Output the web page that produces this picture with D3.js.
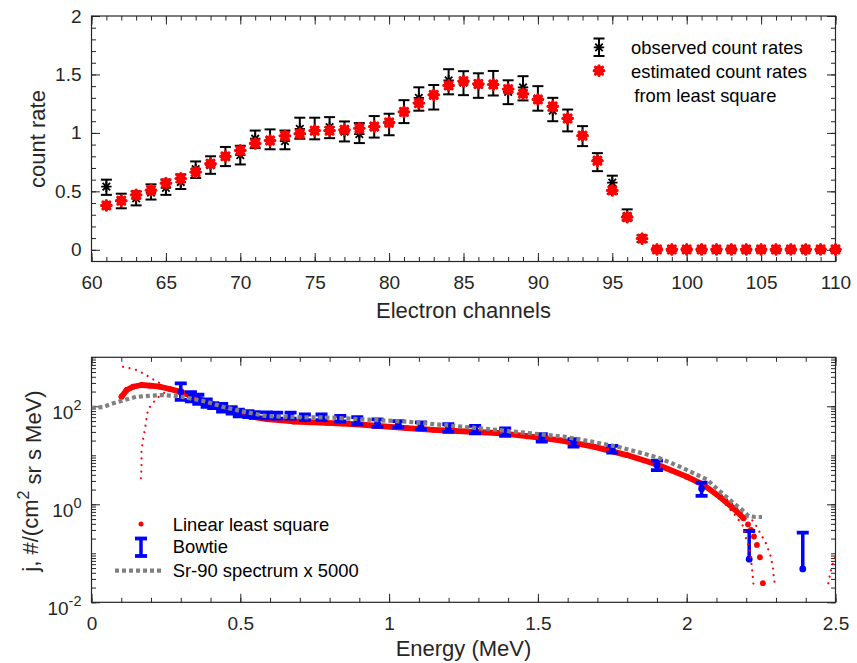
<!DOCTYPE html>
<html>
<head>
<meta charset="utf-8">
<script src="https://cdn.jsdelivr.net/npm/d3@7"></script>
<style>
  html, body { margin: 0; padding: 0; background: #fff; }
  svg { display: block; font-family: "Liberation Sans", Arial, Helvetica, sans-serif; }
</style>
</head>
<body>
<svg id="chart" width="857" height="663"></svg>
<script>
// ---------- upper panel: count rates per electron channel ----------
const channels = [61, 62, 63, 64, 65, 66, 67, 68, 69, 70, 71, 72, 73, 74, 75, 76, 77, 78, 79, 80,
  81, 82, 83, 84, 85, 86, 87, 88, 89, 90, 91, 92, 93, 94, 95, 96, 97, 98, 99, 100,
  101, 102, 103, 104, 105, 106, 107, 108, 109, 110];
const observed = [0.54, 0.42, 0.44, 0.49, 0.53, 0.58, 0.69, 0.725, 0.80, 0.81, 0.95, 0.94, 0.93, 1.035, 1.02, 1.05, 1.01, 0.99, 1.05, 1.08,
  1.18, 1.30, 1.33, 1.45, 1.43, 1.41, 1.42, 1.35, 1.39, 1.29, 1.19, 1.12, 0.98, 0.77, 0.574, 0.29, 0.10, 0.003, 0.0, 0.002,
  0.001, 0.0, 0.002, 0.0, 0.001, 0.0, 0.002, 0.0, 0.001, 0.0];
const observedLow = [0.47, 0.355, 0.38, 0.43, 0.47, 0.52, 0.614, 0.65, 0.716, 0.73, 0.87, 0.86, 0.86, 0.95, 0.945, 0.955, 0.927, 0.913, 0.96, 0.98,
  1.084, 1.19, 1.20, 1.33, 1.323, 1.30, 1.32, 1.246, 1.278, 1.19, 1.10, 1.013, 0.887, 0.673, 0.48, 0.252, 0.067, -0.007, -0.008, -0.007,
  -0.008, -0.008, -0.007, -0.008, -0.008, -0.008, -0.007, -0.008, -0.008, -0.008];
const observedHigh = [0.60, 0.48, 0.50, 0.56, 0.60, 0.645, 0.756, 0.80, 0.88, 0.89, 1.02, 1.03, 1.02, 1.13, 1.13, 1.135, 1.098, 1.084, 1.144, 1.164,
  1.28, 1.39, 1.41, 1.545, 1.528, 1.51, 1.53, 1.45, 1.485, 1.40, 1.30, 1.20, 1.058, 0.827, 0.634, 0.346, 0.124, 0.013, 0.008, 0.012,
  0.010, 0.008, 0.012, 0.008, 0.010, 0.008, 0.012, 0.008, 0.010, 0.008];
const estimated = [0.38, 0.42, 0.47, 0.51, 0.57, 0.61, 0.665, 0.737, 0.80, 0.85, 0.91, 0.935, 0.975, 0.993, 1.02, 1.02, 1.027, 1.04, 1.055, 1.09,
  1.18, 1.255, 1.326, 1.406, 1.443, 1.42, 1.414, 1.375, 1.335, 1.286, 1.227, 1.124, 0.976, 0.762, 0.508, 0.28, 0.096, 0.004, 0.004, 0.004,
  0.004, 0.004, 0.004, 0.004, 0.004, 0.004, 0.004, 0.004, 0.004, 0.004];

const upperXTicks = [60, 65, 70, 75, 80, 85, 90, 95, 100, 105, 110];
const upperYTicks = [0, 0.5, 1, 1.5, 2];

// ---------- lower panel: differential flux vs energy ----------
const fitEnergy = [0.101, 0.118, 0.14, 0.168, 0.196, 0.23, 0.263, 0.297, 0.342, 0.387, 0.432, 0.488, 0.532, 0.589, 0.678, 0.79,
  0.89, 1.06, 1.15, 1.363, 1.463, 1.575, 1.687, 1.799, 1.90, 2.0, 2.057, 2.113, 2.157, 2.191,
  2.206, 2.216, 2.226, 2.236, 2.246, 2.256];
const fitFlux = [157, 215, 251, 272, 263, 251, 225, 199, 157, 124, 96, 72, 62, 55, 49, 46,
  43, 36, 33, 28.5, 24.5, 20.2, 15.0, 10.1, 6.5, 3.66, 2.48, 1.39, 0.83, 0.52,
  0.39, 0.30, 0.22, 0.148, 0.083, 0.0246];

const boundUpLeftEnergy = [0.106, 0.129, 0.151, 0.174, 0.202, 0.23, 0.252, 0.28];
const boundUpLeftFlux = [640, 600, 550, 470, 370, 295, 235, 210];
const boundLowLeftEnergy = [0.166, 0.168, 0.168, 0.174, 0.179, 0.185, 0.19, 0.202, 0.219, 0.241, 0.27];
const boundLowLeftFlux = [3.4, 5.5, 12.8, 22.5, 32.8, 57, 87, 107, 146, 184, 218];
const boundUpRightEnergy = [2.08, 2.12, 2.16, 2.19, 2.217, 2.230, 2.241, 2.253, 2.264, 2.273, 2.281, 2.286, 2.29, 2.292, 2.295];
const boundUpRightFlux = [2.1, 1.5, 0.95, 0.65, 0.50, 0.40, 0.30, 0.225, 0.173, 0.126, 0.092, 0.067, 0.049, 0.036, 0.026];
const boundLowRightEnergy = [2.10, 2.13, 2.163, 2.191, 2.2, 2.208, 2.213, 2.219, 2.221, 2.225];
const boundLowRightFlux = [1.5, 1.0, 0.60, 0.35, 0.195, 0.142, 0.103, 0.053, 0.039, 0.021];
const boundEdgeEnergy = [2.476, 2.48, 2.485, 2.49, 2.5];
const boundEdgeFlux = [0.0245, 0.033, 0.046, 0.060, 0.085];

const bowtieEnergy = [0.30, 0.334, 0.359, 0.387, 0.409, 0.439, 0.471, 0.495, 0.527, 0.549, 0.589, 0.624, 0.669, 0.717, 0.773,
  0.836, 0.893, 0.961, 1.031, 1.107, 1.199, 1.289, 1.39, 1.513, 1.62, 1.75, 1.90, 2.05, 2.21, 2.39];
const bowtieFlux = [200, 157, 139, 116, 103, 93, 83, 73, 69, 67, 65, 64, 64, 59, 59,
  56, 51, 45, 43, 40, 36, 33, 30, 23, 18, 13.2, 6.3, 2.08, 0.076, 0.048];
const bowtieLow = [135, 126, 112, 97, 92, 78, 71, 62, 60, 58, 57, 56, 56, 52, 52,
  49, 43, 38, 37, 34, 30, 28, 25, 19, 15, 11.3, 5.0, 1.48, null, null];
const bowtieHigh = [295, 195, 172, 138, 116, 112, 96, 85, 80, 76, 75, 74, 74, 68, 68,
  64, 60, 54, 50, 47, 43, 40, 35.5, 27, 21.4, 15.5, 7.8, 2.76, 0.285, 0.263];

const sr90Energy = [0, 0.037, 0.073, 0.112, 0.151, 0.196, 0.241, 0.286, 0.33, 0.387, 0.443, 0.51, 0.589, 0.69, 0.80, 0.89,
  1.06, 1.363, 1.587, 1.681, 1.771, 1.861, 1.905, 1.945, 1.99, 2.029, 2.069, 2.113, 2.158, 2.186, 2.208, 2.23, 2.253];
const sr90Flux = [93, 96, 115, 135, 157, 164, 170, 162, 146, 124, 97, 78, 63, 60, 59, 55,
  48.5, 33, 24, 19, 14.8, 10.6, 8.9, 7.1, 5.4, 4.17, 3.16, 1.81, 1.05, 0.77, 0.575, 0.55, 0.55];

const lowerXTicks = [0, 0.5, 1, 1.5, 2, 2.5];
const lowerYTicks = [1e-2, 1e0, 1e2];

// ---------- layout ----------
const axisColor = "#262626";
const red = "#ff0000", blue = "#0000ff", gray = "#808080";
const upperBox = { left: 91.5, right: 835.5, top: 16, bottom: 261.5 };
const lowerBox = { left: 91.5, right: 835.5, top: 357.3, bottom: 602.3 };
const majorLen = 8.5, minorLen = 4.5;

const svg = d3.select("#chart");

function tickAxis(g, axisFn, scale, values, len, transform, format, padding) {
  const axis = axisFn(scale)
    .tickValues(values)
    .tickSizeInner(-len)
    .tickSizeOuter(0)
    .tickPadding(padding || 0)
    .tickFormat(format || (() => ""));
  const a = g.append("g").attr("transform", transform).call(axis);
  a.select(".domain").remove();
  a.attr("color", axisColor).attr("font-family", null).attr("font-size", 19);
  return a;
}

function drawFrame(g, box, x, y, xMajor, xMinor, yMajor, yMinor, xFormat, yFormat) {
  tickAxis(g, d3.axisBottom, x, xMinor, minorLen, `translate(0,${box.bottom})`);
  tickAxis(g, d3.axisTop, x, xMinor, minorLen, `translate(0,${box.top})`);
  tickAxis(g, d3.axisLeft, y, yMinor, minorLen, `translate(${box.left},0)`);
  tickAxis(g, d3.axisRight, y, yMinor, minorLen, `translate(${box.right},0)`);
  tickAxis(g, d3.axisTop, x, xMajor, majorLen, `translate(0,${box.top})`);
  tickAxis(g, d3.axisRight, y, yMajor, majorLen, `translate(${box.right},0)`);
  const bx = tickAxis(g, d3.axisBottom, x, xMajor, majorLen, `translate(0,${box.bottom})`, xFormat, 14);
  const ly = tickAxis(g, d3.axisLeft, y, yMajor, majorLen, `translate(${box.left},0)`, yFormat, 10);
  g.append("rect")
    .attr("x", box.left).attr("y", box.top)
    .attr("width", box.right - box.left).attr("height", box.bottom - box.top)
    .attr("fill", "none").attr("stroke", axisColor).attr("stroke-width", 1.2);
  return { bx, ly };
}

// ---------- upper panel ----------
const xUp = d3.scaleLinear().domain([60, 110]).range([upperBox.left, upperBox.right]);
const yUp = d3.scaleLinear().domain([-0.1, 2]).range([upperBox.bottom, upperBox.top]);
const gUp = svg.append("g");

const upperXMinor = d3.range(60, 111, 1);
const upperYMinor = d3.range(0, 21, 1).map(v => v / 10);
drawFrame(gUp, upperBox, xUp, yUp, upperXTicks, upperXMinor, upperYTicks, upperYMinor,
  d3.format("d"), v => String(v));

const starPath = s => `M${-s},0H${s}M0,${-s}V${s}M${-s * 0.72},${-s * 0.72}L${s * 0.72},${s * 0.72}M${-s * 0.72},${s * 0.72}L${s * 0.72},${-s * 0.72}`;

function errorBar(g, x, y1, y2, capW, color, width) {
  g.append("line").attr("x1", x).attr("x2", x).attr("y1", y1).attr("y2", y2)
    .attr("stroke", color).attr("stroke-width", width);
  [y1, y2].forEach(yy => g.append("line")
    .attr("x1", x - capW / 2).attr("x2", x + capW / 2).attr("y1", yy).attr("y2", yy)
    .attr("stroke", color).attr("stroke-width", width));
}

function observedMarker(g, x, y) {
  g.append("path").attr("d", starPath(5.2)).attr("transform", `translate(${x},${y})`)
    .attr("stroke", "#000").attr("stroke-width", 1.8).attr("fill", "none");
}

function estimatedMarker(g, x, y) {
  g.append("circle").attr("cx", x).attr("cy", y).attr("r", 4.6).attr("fill", red);
  g.append("path").attr("d", starPath(4.8)).attr("transform", `translate(${x},${y})`)
    .attr("stroke", red).attr("stroke-width", 3.2).attr("stroke-linecap", "round").attr("fill", "none");
}

const obsG = gUp.append("g");
channels.forEach((c, i) => {
  errorBar(obsG, xUp(c), yUp(observedHigh[i]), yUp(observedLow[i]), 11, "#000", 2);
  observedMarker(obsG, xUp(c), yUp(observed[i]));
});
const estG = gUp.append("g");
channels.forEach((c, i) => estimatedMarker(estG, xUp(c), yUp(estimated[i])));

gUp.append("text").attr("x", (upperBox.left + upperBox.right) / 2).attr("y", 318)
  .attr("text-anchor", "middle").attr("font-size", 22).attr("fill", axisColor).text("Electron channels");
gUp.append("text").attr("transform", `translate(45,139) rotate(-90)`)
  .attr("text-anchor", "middle").attr("font-size", 22).attr("fill", axisColor).text("count rate");

// upper legend
const legUp = gUp.append("g").attr("font-size", 18.4).attr("fill", "#000");
errorBar(legUp, 599, 38.5, 56, 11, "#000", 2);
observedMarker(legUp, 599, 47.3);
estimatedMarker(legUp, 599, 70.7);
legUp.append("text").attr("x", 631).attr("y", 54.3).text("observed count rates");
legUp.append("text").attr("x", 631).attr("y", 77.7).text("estimated count rates");
legUp.append("text").attr("x", 634.3).attr("y", 101.7).text("from least square");

// ---------- lower panel ----------
const xLo = d3.scaleLinear().domain([0, 2.5]).range([lowerBox.left, lowerBox.right]);
const yLo = d3.scaleLog().domain([1e-2, 1e3]).range([lowerBox.bottom, lowerBox.top]);
const gLo = svg.append("g");

const lowerXMinor = d3.range(0, 26, 1).map(v => v / 10);
const lowerYMinor = [];
for (let e = -2; e <= 2; e++) for (let m = 1; m <= 9; m++) lowerYMinor.push(m * Math.pow(10, e));
lowerYMinor.push(1000);

const frameLo = drawFrame(gLo, lowerBox, xLo, yLo, lowerXTicks, lowerXMinor, lowerYTicks, lowerYMinor,
  v => String(v), v => String(v));
frameLo.ly.selectAll(".tick text").each(function (d) {
  const t = d3.select(this);
  t.text(null).attr("dy", "0.62em");
  t.append("tspan").text("10");
  t.append("tspan").attr("dy", "-0.62em").attr("font-size", 14.5).text(String(Math.round(Math.log10(d))));
});

svg.append("clipPath").attr("id", "clipLo").append("rect")
  .attr("x", lowerBox.left).attr("y", lowerBox.top)
  .attr("width", lowerBox.right - lowerBox.left).attr("height", lowerBox.bottom - lowerBox.top);
const plotLo = gLo.append("g").attr("clip-path", "url(#clipLo)");

const zip = (xs, ys) => xs.map((x, i) => [x, ys[i]]);
const lineLo = d3.line().x(d => xLo(d[0])).y(d => yLo(d[1]));

// linear least square fit: dense dots forming a thick band
plotLo.append("path").datum(zip(fitEnergy.slice(0, 30), fitFlux.slice(0, 30))).attr("d", lineLo)
  .attr("fill", "none").attr("stroke", red).attr("stroke-width", 5.8)
  .attr("stroke-linecap", "round").attr("stroke-linejoin", "round");
plotLo.append("g").selectAll("circle").data(zip(fitEnergy, fitFlux)).join("circle")
  .attr("cx", d => xLo(d[0])).attr("cy", d => yLo(d[1])).attr("r", 2.9).attr("fill", red);

// bowtie error bars
const bowG = plotLo.append("g");
bowtieEnergy.forEach((e, i) => {
  const x = xLo(e);
  const yTop = yLo(bowtieHigh[i]);
  const yBot = bowtieLow[i] == null ? yLo(bowtieFlux[i]) : yLo(bowtieLow[i]);
  bowG.append("line").attr("x1", x).attr("x2", x).attr("y1", yTop).attr("y2", yBot)
    .attr("stroke", blue).attr("stroke-width", 3.5);
  const caps = bowtieLow[i] == null ? [yTop] : [yTop, yBot];
  caps.forEach(yy => bowG.append("line").attr("x1", x - 6).attr("x2", x + 6).attr("y1", yy).attr("y2", yy)
    .attr("stroke", blue).attr("stroke-width", 3.8));
  bowG.append("circle").attr("cx", x).attr("cy", yLo(bowtieFlux[i])).attr("r", 3.4).attr("fill", blue);
});

// confidence bounds: small red dots
[[boundUpLeftEnergy, boundUpLeftFlux], [boundLowLeftEnergy, boundLowLeftFlux],
 [boundUpRightEnergy, boundUpRightFlux], [boundLowRightEnergy, boundLowRightFlux],
 [boundEdgeEnergy, boundEdgeFlux]].forEach(([es, js]) => {
  plotLo.append("path").datum(zip(es, js)).attr("d", lineLo)
    .attr("fill", "none").attr("stroke", red).attr("stroke-width", 2.2)
    .attr("stroke-dasharray", "0.01 6.6").attr("stroke-linecap", "round");
});

// Sr-90 spectrum
plotLo.append("path").datum(zip(sr90Energy, sr90Flux)).attr("d", lineLo)
  .attr("fill", "none").attr("stroke", gray).attr("stroke-width", 4.2)
  .attr("stroke-dasharray", "4 3");

gLo.append("text").attr("x", (lowerBox.left + lowerBox.right) / 2).attr("y", 656)
  .attr("text-anchor", "middle").attr("font-size", 22).attr("fill", axisColor).text("Energy (MeV)");
const yLab = gLo.append("text").attr("transform", `translate(38,481) rotate(-90)`)
  .attr("text-anchor", "middle").attr("font-size", 22).attr("fill", axisColor);
yLab.append("tspan").text("j, #/(cm");
yLab.append("tspan").attr("dy", "-0.55em").attr("font-size", 16).text("2");
yLab.append("tspan").attr("dy", "0.55em").text(" sr s MeV)");

// lower legend
const legLo = gLo.append("g").attr("font-size", 18.4).attr("fill", "#000");
legLo.append("circle").attr("cx", 141).attr("cy", 524).attr("r", 2.5).attr("fill", red);
legLo.append("line").attr("x1", 141).attr("x2", 141).attr("y1", 538.5).attr("y2", 556)
  .attr("stroke", blue).attr("stroke-width", 3.5);
[538.5, 556].forEach(yy => legLo.append("line").attr("x1", 135).attr("x2", 147).attr("y1", yy).attr("y2", yy)
  .attr("stroke", blue).attr("stroke-width", 3.8));
legLo.append("line").attr("x1", 115).attr("x2", 162).attr("y1", 570.7).attr("y2", 570.7)
  .attr("stroke", gray).attr("stroke-width", 4.2).attr("stroke-dasharray", "4 3");
legLo.append("text").attr("x", 172.7).attr("y", 530.7).text("Linear least square");
legLo.append("text").attr("x", 172.7).attr("y", 553.3).text("Bowtie");
legLo.append("text").attr("x", 172.7).attr("y", 576.7).text("Sr-90 spectrum x 5000");
</script>
</body>
</html>
